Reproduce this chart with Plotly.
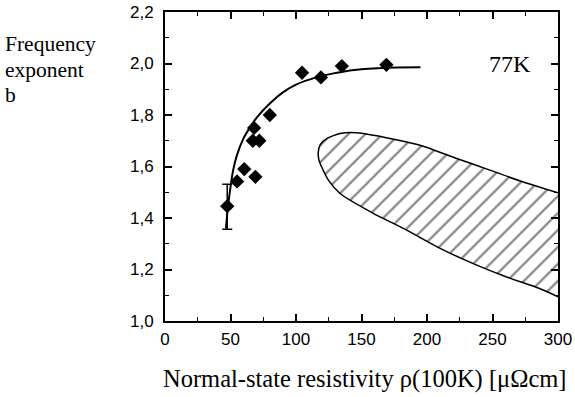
import plotly.graph_objects as go

# measured points
rho = [47.5, 55, 60.5, 69, 68, 67, 72, 80, 104.6, 119, 135, 169]
b = [1.446, 1.542, 1.59, 1.56, 1.75, 1.70, 1.70, 1.80, 1.964, 1.946, 1.99, 1.995]
err_rho = [47.5]
err_b = [1.446]
err_plus = [0.085]
err_minus = [0.09]

# fitted curve
curve_rho = [46.5, 48, 50, 52, 55, 60, 65, 70, 80, 90, 100, 116, 130, 141, 166, 195]
curve_b = [1.36, 1.44, 1.52, 1.585, 1.645, 1.71, 1.753, 1.79, 1.845, 1.888, 1.918, 1.947, 1.963, 1.973, 1.983, 1.985]

# hatched region outline (top edge then bottom edge back)
region_rho = [300, 273.5, 248, 222.7, 197.2, 171.8, 146.3, 133.6, 124, 118.5, 117, 117.5, 119.6, 125, 133.6, 159, 184.5, 210, 235.3, 260.8, 286, 300]
region_b = [1.498, 1.540, 1.586, 1.631, 1.679, 1.709, 1.731, 1.728, 1.71, 1.685, 1.655, 1.625, 1.598, 1.545, 1.495, 1.418, 1.353, 1.282, 1.223, 1.171, 1.126, 1.094]

x_ticks = [0, 50, 100, 150, 200, 250, 300]
y_ticks = [1.0, 1.2, 1.4, 1.6, 1.8, 2.0, 2.2]

fig = go.Figure()

fig.add_trace(go.Scatter(
    x=region_rho, y=region_b, mode="lines", fill="toself",
    fillcolor="rgba(0,0,0,0)",
    fillpattern=dict(shape="/", size=12, solidity=0.18, fgcolor="black", bgcolor="white"),
    line=dict(color="black", width=1.5, shape="spline", smoothing=0.6),
    hoverinfo="skip", showlegend=False))

fig.add_trace(go.Scatter(
    x=curve_rho, y=curve_b, mode="lines",
    line=dict(color="black", width=2, shape="spline", smoothing=0.8),
    showlegend=False))

fig.add_trace(go.Scatter(
    x=err_rho, y=err_b, mode="markers",
    marker=dict(size=1, color="black"),
    error_y=dict(type="data", symmetric=False, array=err_plus, arrayminus=err_minus,
                 color="black", thickness=1.5, width=5),
    showlegend=False))

fig.add_trace(go.Scatter(
    x=rho, y=b, mode="markers",
    marker=dict(symbol="diamond", size=11, color="black"),
    showlegend=False))

axis_common = dict(
    showline=True, linecolor="black", linewidth=2, mirror="allticks",
    ticks="inside", ticklen=7, tickwidth=1.5, tickcolor="black",
    showgrid=False, zeroline=False, automargin=False,
    tickfont=dict(family="Liberation Sans", size=17, color="black"),
)

fig.update_xaxes(range=[0, 300], tickvals=x_ticks, ticklabelstandoff=2,
                 minor=dict(ticks="inside", ticklen=4, tickwidth=1.2, tickcolor="black", dtick=25, showgrid=False),
                 **axis_common)
fig.update_yaxes(range=[1.0, 2.2], tickvals=y_ticks, tickformat=".1f", ticklabelstandoff=6,
                 minor=dict(ticks="inside", ticklen=4, tickwidth=1.2, tickcolor="black", dtick=0.1, showgrid=False),
                 **axis_common)

serif = dict(family="Liberation Serif", size=21.5, color="black")


def px_to_paper(px, py):
    return (px - 165) / 393, 1 - (py - 12) / 309


for t, py in [("Frequency", 44), ("exponent", 69.5), ("b", 95)]:
    xx, yy = px_to_paper(3, py)
    fig.add_annotation(text=t, xref="paper", yref="paper", x=xx, y=yy,
                       xanchor="left", yanchor="middle", showarrow=False, font=serif)

fig.add_annotation(text="77K", x=281, y=2.0, xref="x", yref="y", xanchor="right", yanchor="middle",
                   showarrow=False, font=dict(family="Liberation Serif", size=24, color="black"))

xx, yy = px_to_paper(364, 379)
fig.add_annotation(text="Normal-state resistivity ρ(100K) [μΩcm]", xref="paper", yref="paper",
                   x=xx, y=yy, xanchor="center", yanchor="middle",
                   showarrow=False, font=dict(family="Liberation Serif", size=24.5, color="black"))

fig.update_layout(
    width=575, height=397,
    margin=dict(l=165, r=17, t=12, b=76),
    paper_bgcolor="white", plot_bgcolor="white",
    separators=",.",
)

fig.write_html("out.html")
